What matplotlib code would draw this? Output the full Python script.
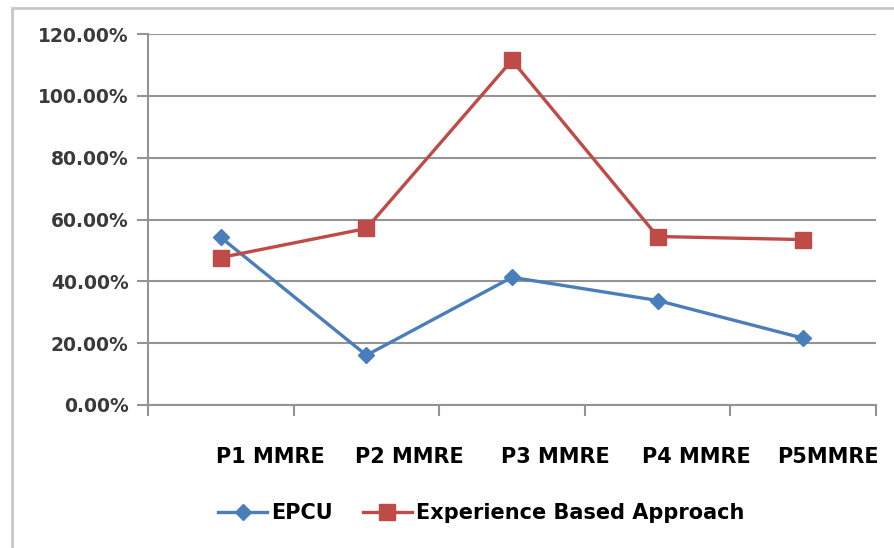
import matplotlib
matplotlib.use("Agg")
import matplotlib.pyplot as plt
import matplotlib.transforms as mtransforms
from matplotlib.patches import Rectangle
from matplotlib.ticker import PercentFormatter, FixedLocator

# ==========================
# DATA
# ==========================

categories = ["P1 MMRE", "P2 MMRE", "P3 MMRE", "P4 MMRE", "P5MMRE"]

epcu = [0.542, 0.161, 0.413, 0.338, 0.216]
experience = [0.477, 0.571, 1.115, 0.545, 0.535]

BLUE = "#4a7ebb"
RED = "#be4b48"
GRID = "#949494"

# label shifts to the right (pixels), as in the reference
LABEL_SHIFT = [50, 43, 43, 39, 25]

# ==========================
# FIGURE
# ==========================

fig = plt.figure(figsize=(8.94, 5.48), dpi=100)
ax = fig.add_axes([148 / 894, 1 - 405 / 548, (876 - 148) / 894, (405 - 34) / 548])

# outer chart border (clipped on right/bottom)
fig.patches.append(
    Rectangle((12 / 894, -0.2), 1.2, 1.2 - 8 / 548,
              transform=fig.transFigure, fill=False,
              edgecolor="#c8c8c8", linewidth=2)
)

x = range(len(categories))

ax.plot(x, epcu, color=BLUE, linewidth=2.4, marker="D",
        markersize=8, label="EPCU", zorder=3)
ax.plot(x, experience, color=RED, linewidth=2.4, marker="s",
        markersize=11.5, label="Experience Based Approach", zorder=3)

ax.set_xlim(-0.5, len(categories) - 0.5)
ax.set_ylim(0, 1.2)
ax.set_yticks([0, 0.2, 0.4, 0.6, 0.8, 1.0, 1.2])
ax.yaxis.set_major_formatter(PercentFormatter(1.0, decimals=2))

ax.grid(axis="y", color=GRID, linewidth=1.5)
ax.set_axisbelow(True)

for side in ["top", "right"]:
    ax.spines[side].set_visible(False)
for side in ["left", "bottom"]:
    ax.spines[side].set_color(GRID)
    ax.spines[side].set_linewidth(1.5)

# y ticks
ax.tick_params(axis="y", length=8, width=1.5, color=GRID, pad=6,
               labelsize=13.5, labelcolor="#3a3a3a")
for lbl in ax.get_yticklabels():
    lbl.set_fontweight("bold")

# x: labels on majors (no tick), tick marks at category boundaries
ax.set_xticks(list(x))
ax.set_xticklabels(categories, fontsize=15, fontweight="bold")
ax.tick_params(axis="x", which="major", length=0, pad=30)
ax.xaxis.set_minor_locator(FixedLocator([i - 0.5 for i in range(len(categories) + 1)]))
ax.tick_params(axis="x", which="minor", length=8, width=1.5, color=GRID)

for lbl, dx in zip(ax.get_xticklabels(), LABEL_SHIFT):
    lbl.set_transform(lbl.get_transform()
                      + mtransforms.ScaledTranslation(dx / 100, 0, fig.dpi_scale_trans))

ax.legend(loc="center left", bbox_to_anchor=(208 / 894, 1 - 513 / 548),
          bbox_transform=fig.transFigure, ncol=2, frameon=False,
          borderpad=0, handlelength=2.35, handletextpad=0.2,
          columnspacing=1.42, prop={"size": 15, "weight": "bold"})

plt.savefig("out.png", dpi=100)
plt.close()
